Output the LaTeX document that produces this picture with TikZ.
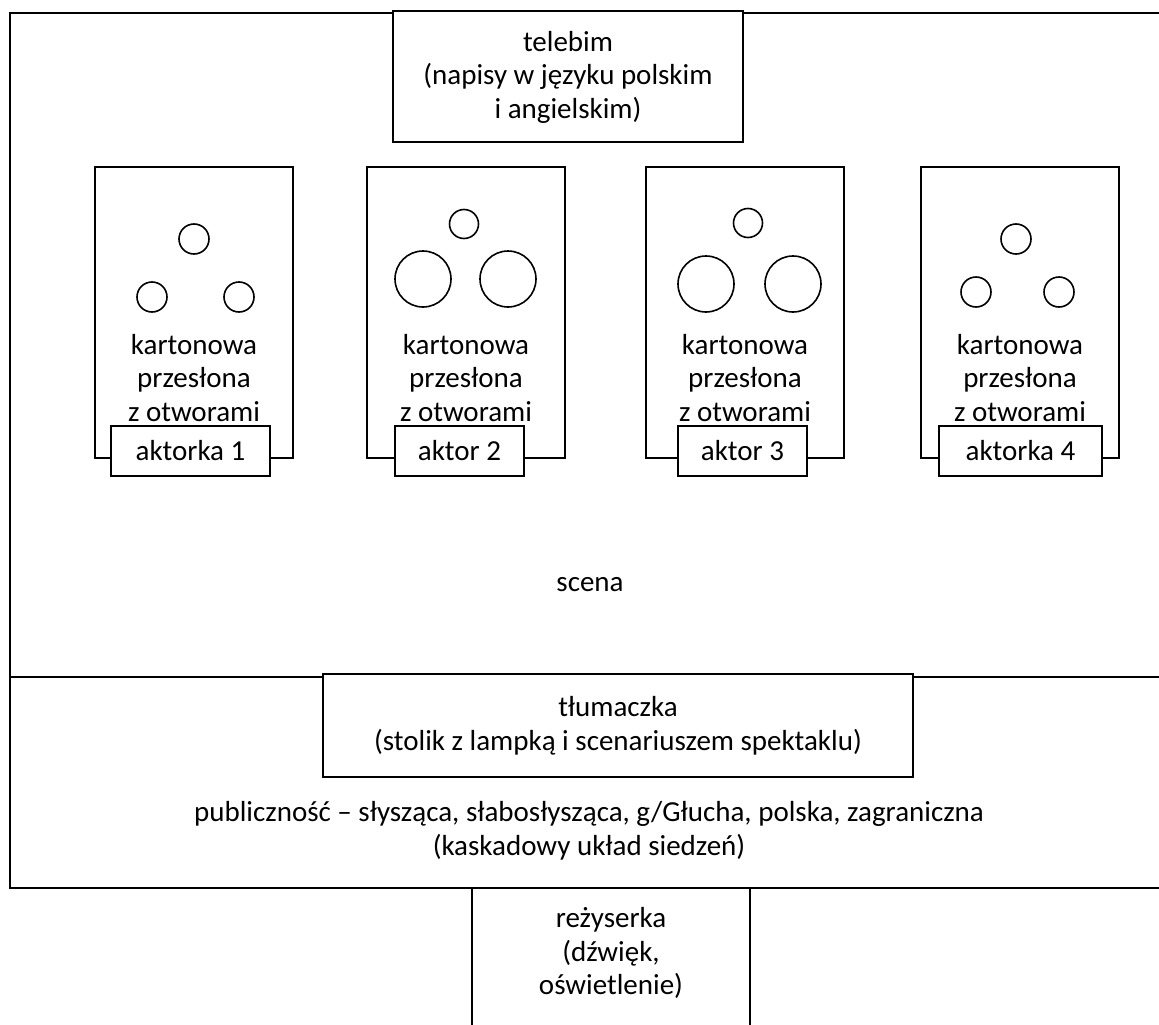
\documentclass[tikz,border=0pt]{standalone}
\usepackage{fontspec}
\setmainfont{Carlito}
\tikzset{
  plan/.style={line width=2pt},
  hole/.style={line width=1.6pt},
  txt/.style={font=\fontsize{29}{33.5}\selectfont, align=center, inner sep=0pt}
}
\begin{document}
\begin{tikzpicture}[x=1pt,y=-1pt]
\useasboundingbox (0,0) rectangle (1159,1025);
% scena i widownia
\draw[plan] (1160,13) -- (9.5,13) -- (9.5,888) -- (1160,888);
\draw[plan] (9.5,677) -- (1160,677);
\node[txt] (scena) at (590,585) {scena};

% telebim
\draw[plan,fill=white] (393,11) rectangle (743,142);
\node[txt] (telebim) at (568,77) {telebim\\(napisy w języku polskim\\i angielskim)};

% przeslony i aktorzy
\foreach \xl/\xa/\xb/\name/\who in {95/111/270/p1/aktorka 1, 367/395/524/p2/aktor 2, 646/678/807/p3/aktor 3, 921/939/1102/p4/aktorka 4} {
  \draw[plan] (\xl,167) rectangle ++(198,291);
  \draw[plan,fill=white] (\xa,426) rectangle (\xb,476);
  \node[txt] (\name) at (\xl+99,378) {kartonowa\\przesłona\\z otworami};
  \node[txt] (\name-aktor) at ({(\xa+\xb)/2},451) {\who};
}
\foreach \cx/\cy/\r in {194/239/15, 152/297/15, 239/297/15, 464/224/14.5, 423/279/28, 508/279/28, 748/223/14.5, 706/284/28, 793/284/28, 1016/239/15, 976/292/15, 1059/292/15}
  \draw[hole] (\cx,\cy) circle[radius=\r];

% tlumaczka
\draw[plan,fill=white] (323,674) rectangle (913,777);
\node[txt] (tlumaczka) at (618,726) {tłumaczka\\(stolik z lampką i scenariuszem spektaklu)};

% publicznosc
\node[txt] (publicznosc) at (589,831) {publiczność – słysząca, słabosłysząca, g/Głucha, polska, zagraniczna\\(kaskadowy układ siedzeń)};

% rezyserka
\draw[plan] (472,1030) -- (472,888);
\draw[plan] (750,888) -- (750,1030);
\node[txt] (rezyserka) at (611,953) {reżyserka\\(dźwięk,\\oświetlenie)};
\end{tikzpicture}
\end{document}
